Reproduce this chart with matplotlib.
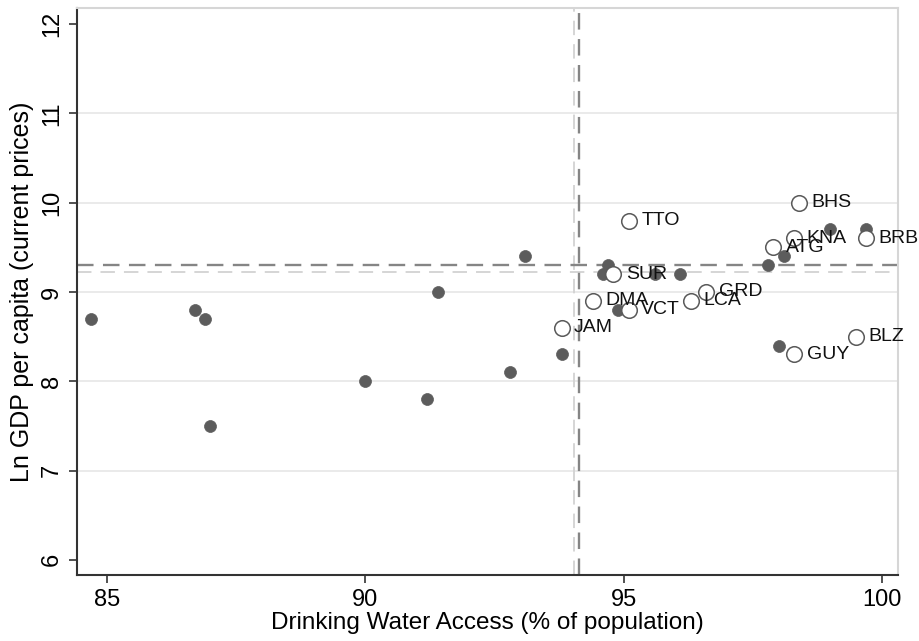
import matplotlib.pyplot as plt

plt.rcParams['font.family'] = ['Liberation Sans', 'DejaVu Sans']

# Countries outside the highlighted group (filled dots)
other_water = [84.7, 86.7, 86.9, 87.0, 90.0, 91.2, 91.4, 92.8, 93.1, 93.8,
               94.7, 94.6, 94.9, 95.6, 96.1, 97.8, 98.1, 99.0, 99.7, 98.0]
other_gdp = [8.7, 8.8, 8.7, 7.5, 8.0, 7.8, 9.0, 8.1, 9.4, 8.3,
             9.3, 9.2, 8.8, 9.2, 9.2, 9.3, 9.4, 9.7, 9.7, 8.4]

# Caribbean countries (hollow, labelled)
carib_codes = ["TTO", "BHS", "KNA", "ATG", "BRB", "SUR", "GRD",
               "DMA", "LCA", "VCT", "JAM", "BLZ", "GUY"]
carib_water = [95.1, 98.4, 98.3, 97.9, 99.7, 94.8, 96.6,
               94.4, 96.3, 95.1, 93.8, 99.5, 98.3]
carib_gdp = [9.8, 10.0, 9.6, 9.5, 9.6, 9.2, 9.0,
             8.9, 8.9, 8.8, 8.6, 8.5, 8.3]

# Group means used as reference lines
mean_all_water, mean_all_gdp = 94.05, 9.22
mean_carib_water, mean_carib_gdp = 94.13, 9.30

fig = plt.figure(figsize=(9.19, 6.41), dpi=100)
ax = fig.add_axes([0.0838, 0.103, 0.8932, 0.8845])

ax.set_xlim(84.42, 100.31)
ax.set_ylim(5.83, 12.18)

for yv in [7, 8, 9, 10, 11]:
    ax.axhline(yv, color='#e6e6e6', lw=1.2, zorder=0)

ax.axhline(mean_all_gdp, color='#d2d2d2', lw=1.3, dashes=(8, 5), zorder=1)
ax.axvline(mean_all_water, color='#d2d2d2', lw=1.3, dashes=(8, 5), zorder=1)
ax.axhline(mean_carib_gdp, color='#858585', lw=1.7, dashes=(7, 4), zorder=1)
ax.axvline(mean_carib_water, color='#858585', lw=1.7, dashes=(7, 4), zorder=1)

ax.plot(other_water, other_gdp, 'o', ms=8.6, color='#5c5c5c',
        mec='#5c5c5c', mew=0.5, ls='none', zorder=2)
ax.plot(carib_water, carib_gdp, 'o', ms=11.2, mfc='white', mec='#595959',
        mew=1.1, ls='none', zorder=3)

for code, xv, yv in zip(carib_codes, carib_water, carib_gdp):
    ax.annotate(code, (xv, yv), xytext=(9, 0), textcoords='offset points',
                ha='left', va='center', fontsize=14, color='#111111', zorder=4)

ax.set_xticks([85, 90, 95, 100])
ax.set_yticks([6, 7, 8, 9, 10, 11, 12])
ax.tick_params(axis='both', direction='out', length=6, width=1.2,
               color='#333333', labelsize=17, pad=4)
for lbl in ax.get_yticklabels():
    lbl.set_rotation(90)
    lbl.set_va('center')

ax.set_xlabel("Drinking Water Access (% of population)", fontsize=17.5, labelpad=1)
ax.set_ylabel("Ln GDP per capita (current prices)", fontsize=18, labelpad=5)

for side in ['left', 'bottom']:
    ax.spines[side].set_color('#333333')
    ax.spines[side].set_linewidth(1.5)
for side in ['top', 'right']:
    ax.spines[side].set_color('#d6d6d6')
    ax.spines[side].set_linewidth(1.5)

fig.savefig("out.png", dpi=100, facecolor='white')
